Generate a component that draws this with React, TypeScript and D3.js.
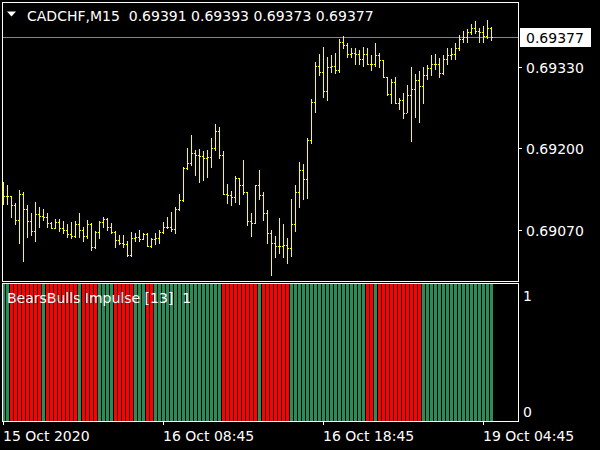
import * as d3 from "d3";

// M15 bars (bar 0 = 15 Oct, last = 19 Oct 05:15)
const opens = [
  0.69130, 0.69124, 0.69124, 0.69110, 0.69086, 0.69127, 0.69103, 0.69084, 0.69068, 0.69095,
  0.69092, 0.69091, 0.69081, 0.69073, 0.69083, 0.69073, 0.69070, 0.69064, 0.69060, 0.69080,
  0.69070, 0.69060, 0.69080, 0.69043, 0.69067, 0.69082, 0.69087, 0.69074, 0.69067, 0.69054,
  0.69050, 0.69048, 0.69030, 0.69057, 0.69059, 0.69056, 0.69064, 0.69045, 0.69056, 0.69058,
  0.69067, 0.69075, 0.69074, 0.69072, 0.69103, 0.69118, 0.69168, 0.69176, 0.69192, 0.69189,
  0.69188, 0.69184, 0.69187, 0.69200, 0.69228, 0.69189, 0.69128, 0.69126, 0.69123, 0.69152,
  0.69142, 0.69131, 0.69084, 0.69081, 0.69141, 0.69125, 0.69097, 0.69065, 0.69049, 0.69045,
  0.69045, 0.69046, 0.69042, 0.69079, 0.69130, 0.69166, 0.69151, 0.69213, 0.69274, 0.69331,
  0.69322, 0.69291, 0.69330, 0.69331, 0.69324, 0.69370, 0.69365, 0.69351, 0.69352, 0.69351,
  0.69343, 0.69351, 0.69335, 0.69334, 0.69349, 0.69341, 0.69313, 0.69286, 0.69305, 0.69273,
  0.69277, 0.69256, 0.69285, 0.69294, 0.69309, 0.69300, 0.69317, 0.69328, 0.69334, 0.69335,
  0.69320, 0.69343, 0.69348, 0.69350, 0.69360, 0.69374, 0.69378, 0.69385, 0.69391, 0.69387,
  0.69385, 0.69379, 0.69391,
];
const highs = [
  0.69146, 0.69142, 0.69124, 0.69113, 0.69134, 0.69131, 0.69110, 0.69097, 0.69115, 0.69107,
  0.69103, 0.69097, 0.69083, 0.69087, 0.69087, 0.69084, 0.69080, 0.69082, 0.69084, 0.69097,
  0.69075, 0.69086, 0.69081, 0.69068, 0.69085, 0.69091, 0.69089, 0.69081, 0.69068, 0.69062,
  0.69062, 0.69053, 0.69067, 0.69066, 0.69070, 0.69065, 0.69065, 0.69058, 0.69065, 0.69070,
  0.69082, 0.69091, 0.69099, 0.69107, 0.69127, 0.69171, 0.69200, 0.69222, 0.69197, 0.69199,
  0.69196, 0.69197, 0.69216, 0.69238, 0.69234, 0.69195, 0.69143, 0.69132, 0.69156, 0.69153,
  0.69181, 0.69131, 0.69097, 0.69142, 0.69166, 0.69131, 0.69102, 0.69070, 0.69060, 0.69089,
  0.69079, 0.69057, 0.69120, 0.69142, 0.69178, 0.69175, 0.69216, 0.69278, 0.69337, 0.69350,
  0.69362, 0.69345, 0.69349, 0.69352, 0.69374, 0.69379, 0.69367, 0.69359, 0.69359, 0.69356,
  0.69362, 0.69359, 0.69349, 0.69367, 0.69352, 0.69341, 0.69313, 0.69310, 0.69314, 0.69280,
  0.69288, 0.69301, 0.69330, 0.69319, 0.69323, 0.69330, 0.69332, 0.69348, 0.69351, 0.69344,
  0.69348, 0.69359, 0.69360, 0.69367, 0.69381, 0.69387, 0.69390, 0.69398, 0.69403, 0.69391,
  0.69395, 0.69404, 0.69393,
];
const lows = [
  0.69112, 0.69111, 0.69091, 0.69079, 0.69049, 0.69021, 0.69059, 0.69062, 0.69053, 0.69074,
  0.69086, 0.69074, 0.69073, 0.69073, 0.69068, 0.69066, 0.69059, 0.69057, 0.69059, 0.69059,
  0.69053, 0.69057, 0.69038, 0.69041, 0.69057, 0.69074, 0.69070, 0.69065, 0.69043, 0.69048,
  0.69043, 0.69028, 0.69028, 0.69052, 0.69052, 0.69055, 0.69045, 0.69043, 0.69047, 0.69049,
  0.69066, 0.69073, 0.69068, 0.69065, 0.69102, 0.69116, 0.69167, 0.69173, 0.69157, 0.69147,
  0.69150, 0.69155, 0.69171, 0.69197, 0.69184, 0.69127, 0.69113, 0.69110, 0.69114, 0.69112,
  0.69128, 0.69078, 0.69061, 0.69081, 0.69120, 0.69086, 0.69049, 0.68998, 0.69027, 0.69034,
  0.69027, 0.69018, 0.69028, 0.69068, 0.69107, 0.69120, 0.69121, 0.69209, 0.69258, 0.69316,
  0.69282, 0.69277, 0.69322, 0.69320, 0.69322, 0.69359, 0.69346, 0.69346, 0.69335, 0.69334,
  0.69331, 0.69334, 0.69325, 0.69331, 0.69330, 0.69313, 0.69285, 0.69273, 0.69272, 0.69263,
  0.69249, 0.69258, 0.69211, 0.69250, 0.69242, 0.69272, 0.69311, 0.69317, 0.69327, 0.69314,
  0.69318, 0.69335, 0.69343, 0.69343, 0.69357, 0.69370, 0.69370, 0.69382, 0.69383, 0.69370,
  0.69370, 0.69375, 0.69373,
];
const closes = [
  0.69124, 0.69124, 0.69110, 0.69086, 0.69127, 0.69103, 0.69084, 0.69068, 0.69095, 0.69092,
  0.69091, 0.69081, 0.69073, 0.69083, 0.69073, 0.69070, 0.69064, 0.69060, 0.69080, 0.69070,
  0.69060, 0.69080, 0.69043, 0.69067, 0.69082, 0.69087, 0.69074, 0.69067, 0.69054, 0.69050,
  0.69048, 0.69030, 0.69057, 0.69059, 0.69056, 0.69064, 0.69045, 0.69056, 0.69058, 0.69067,
  0.69075, 0.69074, 0.69072, 0.69103, 0.69118, 0.69168, 0.69176, 0.69192, 0.69189, 0.69188,
  0.69184, 0.69187, 0.69200, 0.69228, 0.69189, 0.69128, 0.69126, 0.69123, 0.69152, 0.69142,
  0.69131, 0.69084, 0.69081, 0.69141, 0.69125, 0.69097, 0.69065, 0.69049, 0.69045, 0.69045,
  0.69046, 0.69042, 0.69079, 0.69130, 0.69166, 0.69151, 0.69213, 0.69274, 0.69331, 0.69322,
  0.69291, 0.69330, 0.69331, 0.69324, 0.69370, 0.69365, 0.69351, 0.69352, 0.69351, 0.69343,
  0.69351, 0.69335, 0.69334, 0.69349, 0.69341, 0.69313, 0.69286, 0.69305, 0.69273, 0.69277,
  0.69256, 0.69285, 0.69294, 0.69309, 0.69300, 0.69317, 0.69328, 0.69334, 0.69335, 0.69320,
  0.69343, 0.69348, 0.69350, 0.69360, 0.69374, 0.69378, 0.69385, 0.69391, 0.69387, 0.69385,
  0.69379, 0.69391, 0.69377,
];

// BearsBulls Impulse: 1 = bulls (green), -1 = bears (red)
const impulse = [
  1, 1, -1, -1, -1, -1, -1, -1, -1, -1,
  1, -1, -1, -1, -1, -1, -1, -1, -1, 1,
  -1, -1, -1, -1, 1, 1, 1, 1, -1, -1,
  -1, -1, -1, 1, 1, 1, -1, -1, 1, 1,
  1, 1, 1, 1, 1, 1, 1, 1, 1, 1,
  1, 1, 1, 1, 1, -1, -1, -1, -1, -1,
  -1, -1, -1, -1, 1, -1, -1, -1, -1, -1,
  -1, -1, 1, 1, 1, 1, 1, 1, 1, 1,
  1, 1, 1, 1, 1, 1, 1, 1, 1, 1,
  1, -1, -1, 1, -1, -1, -1, -1, -1, -1,
  -1, -1, -1, -1, -1, 1, 1, 1, 1, 1,
  1, 1, 1, 1, 1, 1, 1, 1, 1, 1,
  1, 1, 1,
];

const priceTicks = [0.6933, 0.692, 0.6907];
const lastPrice = 0.69377;
const timeLabels = ["15 Oct 2020", "16 Oct 08:45", "16 Oct 18:45", "19 Oct 04:45"];
const timeLabelBars = [0, 40, 80, 120];
const indicatorTicks = [1, 0];
const header = "CADCHF,M15  0.69391 0.69393 0.69373 0.69377";
const indicatorName = "BearsBulls Impulse [13]  1";

const FONT = "'DejaVu Sans', Verdana, sans-serif";
const BAR_COLOR = "#ffff00";
const BULL = "#2e8b57";
const BEAR = "#ff0000";
const FRAME = "#ffffff";

export default function App() {
  const n = closes.length;
  // 4px per bar, like the terminal's zoom level
  const x = d3.scaleLinear().domain([0, n - 1]).range([3, 3 + 4 * (n - 1)]);
  const y = d3.scaleLinear().domain([0.6907, 0.6933]).range([230, 66.7]);
  const yInd = d3.scaleLinear().domain([0, 1]).range([421, 284]);

  const py = (v: number) => Math.round(y(v));

  return (
    <div style={{ position: "fixed", left: 0, top: 0, width: 600, height: 450, background: "#000" }}>
      <svg width={600} height={450} style={{ display: "block" }} fontFamily={FONT}>
        <rect width={600} height={450} fill="#000" />
        <defs>
          <clipPath id="mainClip">
            <rect x={3} y={3} width={515} height={278} />
          </clipPath>
        </defs>

        {/* bid line */}
        <line x1={2} x2={518} y1={py(lastPrice) + 0.5} y2={py(lastPrice) + 0.5} stroke="#778899" />

        {/* price bars */}
        <g clipPath="url(#mainClip)" fill={BAR_COLOR} shapeRendering="crispEdges">
          {closes.map((c, i) => {
            const cx = x(i);
            const yh = py(highs[i]);
            const yl = py(lows[i]);
            return (
              <g key={i}>
                <rect x={cx} y={yh} width={1} height={Math.max(1, yl - yh + 1)} />
                <rect x={cx - 1} y={py(opens[i])} width={1} height={1} />
                <rect x={cx + 1} y={py(c)} width={1} height={1} />
              </g>
            );
          })}
        </g>

        {/* indicator histogram */}
        <g shapeRendering="crispEdges">
          {impulse.map((v, i) => (
            <rect
              key={i}
              x={x(i) - 1}
              y={yInd(1)}
              width={3}
              height={yInd(0) - yInd(1)}
              fill={v > 0 ? BULL : BEAR}
            />
          ))}
        </g>

        {/* frames */}
        <g fill="none" stroke={FRAME} shapeRendering="crispEdges">
          <rect x={2.5} y={2.5} width={516} height={279} />
          <rect x={2.5} y={283.5} width={516} height={138} />
        </g>

        {/* price axis */}
        {priceTicks.map((p) => (
          <g key={p}>
            <line x1={518} x2={522} y1={py(p) + 0.5} y2={py(p) + 0.5} stroke={FRAME} />
            <text x={526} y={py(p) + 6} fill="#fff" fontSize={14}>
              {p.toFixed(5)}
            </text>
          </g>
        ))}
        <rect x={520} y={28} width={71} height={19} fill="#fff" />
        <text x={526} y={py(lastPrice) + 6} fill="#000" fontSize={14}>
          {lastPrice.toFixed(5)}
        </text>

        {/* indicator scale */}
        {indicatorTicks.map((t, i) => (
          <text key={t} x={523} y={i === 0 ? 300.5 : 416.5} fill="#fff" fontSize={14}>
            {t}
          </text>
        ))}

        {/* time axis */}
        {timeLabelBars.map((b, i) => (
          <g key={b}>
            <line x1={x(b) + 0.5} x2={x(b) + 0.5} y1={421} y2={425} stroke={FRAME} />
            <text x={x(b)} y={440.5} fill="#fff" fontSize={14}>
              {timeLabels[i]}
            </text>
          </g>
        ))}

        {/* header */}
        <polygon points="7,11.5 16,11.5 11.5,16.5" fill="#fff" />
        <text x={27} y={20.5} fill="#fff" fontSize={14} style={{ whiteSpace: "pre" }}>
          {header}
        </text>
        <text x={7} y={302.5} fill="#fff" fontSize={14} style={{ whiteSpace: "pre" }}>
          {indicatorName}
        </text>
      </svg>
    </div>
  );
}
